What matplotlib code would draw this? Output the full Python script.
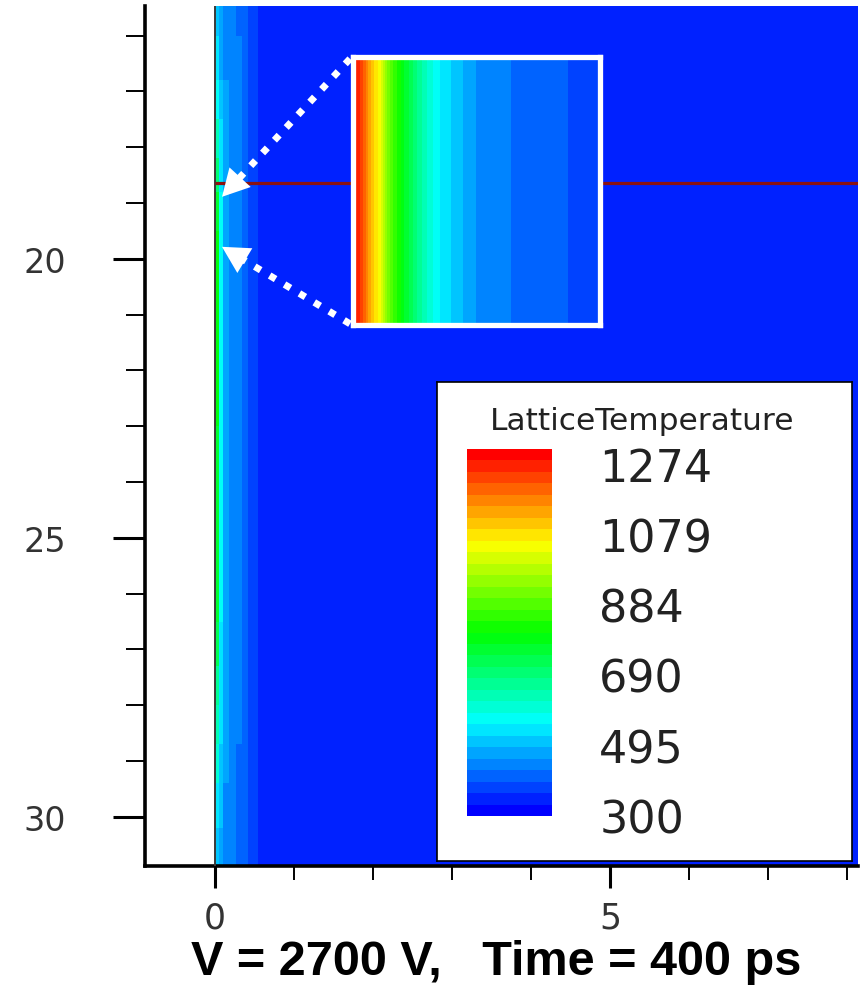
import numpy as np
import matplotlib
matplotlib.use("Agg")
import matplotlib.pyplot as plt
from matplotlib.colors import ListedColormap, BoundaryNorm, hsv_to_rgb
from matplotlib.ticker import MultipleLocator

# ---------------- data ----------------
t_min, t_max = 300, 1274
n_bands = 32
legend_labels = ["1274", "1079", "884", "690", "495", "300"]
legend_title = "LatticeTemperature"
title_text = "V = 2700 V,   Time = 400 ps"

# main field: column edges (x, um) and row edges (y, um)
x_edges = [0.0, 0.05, 0.1, 0.18, 0.26, 0.34, 0.42, 0.55, 8.3]
y_edges = [15.3, 16.0, 16.8, 17.5, 18.2, 18.8, 19.5, 20.5, 21.5, 23.0, 24.5, 25.5,
           26.5, 27.3, 28.0, 28.7, 29.4, 30.2, 31.0]
T_rows = [
    [500, 470, 445, 435, 420, 405, 380, 345],
    [520, 480, 450, 438, 422, 405, 380, 345],
    [560, 495, 455, 440, 425, 408, 382, 345],
    [620, 515, 462, 442, 427, 410, 385, 345],
    [690, 540, 470, 446, 430, 412, 385, 345],
    [750, 560, 478, 450, 432, 412, 385, 345],
    [770, 565, 480, 452, 432, 412, 385, 345],
    [770, 565, 480, 452, 432, 412, 385, 345],
    [760, 560, 478, 450, 430, 410, 385, 345],
    [750, 555, 475, 448, 428, 410, 385, 345],
    [740, 550, 472, 446, 427, 408, 383, 345],
    [730, 545, 470, 445, 426, 408, 383, 345],
    [700, 540, 468, 444, 425, 406, 382, 345],
    [660, 530, 465, 442, 424, 405, 380, 345],
    [620, 520, 460, 440, 422, 404, 380, 345],
    [580, 510, 455, 438, 420, 402, 378, 345],
    [540, 495, 450, 435, 418, 400, 376, 345],
    [500, 475, 445, 430, 415, 398, 375, 345],
]

# zoomed inset profile (relative depth 0..1, temperature)
inset_pos = [0.0, 0.034, 0.068, 0.11, 0.144, 0.2, 0.267, 0.336, 0.37, 0.425, 0.48, 0.56, 0.68, 0.85, 1.0]
inset_T = [1270, 1200, 1105, 1007, 890, 771, 653, 556, 528, 497, 457, 437, 414, 394, 374]

cut_y = 18.64  # cut line position

# ---------------- colours ----------------
hues = [(240.0 * (1 - i / (n_bands - 1))) / 360.0 for i in range(n_bands)]
band_colors = [hsv_to_rgb((h, 1.0, 1.0)) for h in hues]
levels = np.linspace(t_min, t_max, n_bands + 1)
cmap = ListedColormap(band_colors)
norm = BoundaryNorm(levels, n_bands)

W, H = 861, 987
fig = plt.figure(figsize=(W / 100, H / 100), dpi=100)

def fx(px):
    return px / W

def fy(py):
    return 1 - py / H

# ---------------- main axes ----------------
ax = fig.add_axes([fx(145), fy(867), fx(858 - 145), (867 - 7) / H])
ax.set_facecolor("white")
ax.pcolormesh(x_edges, y_edges, np.array(T_rows), cmap=cmap, norm=norm, shading="flat")
ax.set_xlim(-0.886, 8.14)
ax.set_ylim(30.88, 15.47)
ax.axvline(0, color="#3a3a3a", lw=1.4, zorder=3)
ax.hlines(cut_y, 0, 8.3, color="#8a1212", lw=2.3, zorder=4)

for s in ["top", "right"]:
    ax.spines[s].set_visible(False)
for s in ["left", "bottom"]:
    ax.spines[s].set_linewidth(2.6)
    ax.spines[s].set_color("black")

ax.xaxis.set_major_locator(MultipleLocator(5))
ax.xaxis.set_minor_locator(MultipleLocator(1))
ax.yaxis.set_major_locator(MultipleLocator(5))
ax.yaxis.set_minor_locator(MultipleLocator(1))
ax.tick_params(axis="x", which="major", length=16, width=2.2, pad=9, labelsize=25, labelcolor="#333333")
ax.tick_params(axis="x", which="minor", length=10, width=1.4)
ax.tick_params(axis="y", which="major", length=23, width=2.2, pad=34, labelsize=24, labelcolor="#333333")
ax.tick_params(axis="y", which="minor", length=14, width=1.4)

# arrows (dotted line + head)
arrows = [((1.709, 16.416), (0.304, 18.559), (0.089, 18.889)),
          ((1.709, 21.165), (0.361, 20.018), (0.089, 19.785))]
for (sx, sy), (bx, by), (tx, ty) in arrows:
    ax.plot([sx, bx], [sy, by], color="white", lw=5, linestyle=(0, (1, 1.5)),
            dash_capstyle="butt", zorder=6)
    ax.annotate("", xy=(tx, ty), xytext=(bx, by),
                arrowprops=dict(arrowstyle="-|>,head_length=1.2,head_width=0.65",
                                color="white", lw=0, shrinkA=0, shrinkB=0,
                                mutation_scale=16), zorder=7)

# ---------------- inset ----------------
iax = fig.add_axes([fx(353), fy(325.5), (600 - 353) / W, (325.5 - 57.5) / H])
Z = np.array([inset_T, inset_T])
iax.contourf(inset_pos, [0, 1], Z, levels=levels, colors=band_colors)
iax.set_xlim(0, 1)
iax.set_ylim(0, 1)
iax.set_xticks([])
iax.set_yticks([])
for s in iax.spines.values():
    s.set_color("white")
    s.set_linewidth(3.8)

# ---------------- legend ----------------
lax = fig.add_axes([fx(437), fy(862), (852 - 437) / W, (862 - 383) / H])
lax.set_facecolor("white")
lax.set_xticks([])
lax.set_yticks([])
for s in lax.spines.values():
    s.set_color("black")
    s.set_linewidth(1.2)
fig.text(fx(642), fy(422), legend_title, ha="center", va="center", fontsize=22.5,
         color="#222222")

cax = fig.add_axes([fx(467), fy(817), (552 - 467) / W, (817 - 450) / H])
mids = 0.5 * (levels[:-1] + levels[1:])
cax.pcolormesh([0, 1], levels, mids.reshape(-1, 1), cmap=cmap, norm=norm)
cax.set_xlim(0, 1)
cax.set_ylim(t_min, t_max)
cax.set_xticks([])
vals = [float(v) for v in legend_labels]
cax.set_yticks([t_min + (v - t_min) * 0.96 for v in vals])
cax.set_yticklabels(legend_labels)
cax.yaxis.tick_right()
cax.tick_params(axis="y", length=0, pad=34, labelsize=32, labelcolor="#222222")
for s in cax.spines.values():
    s.set_visible(False)

# ---------------- title ----------------
fig.text(fx(496), fy(963), title_text, ha="center", va="center", fontsize=35,
         fontweight="bold", family=["Liberation Sans", "DejaVu Sans"])

fig.savefig("out.png", dpi=100)
